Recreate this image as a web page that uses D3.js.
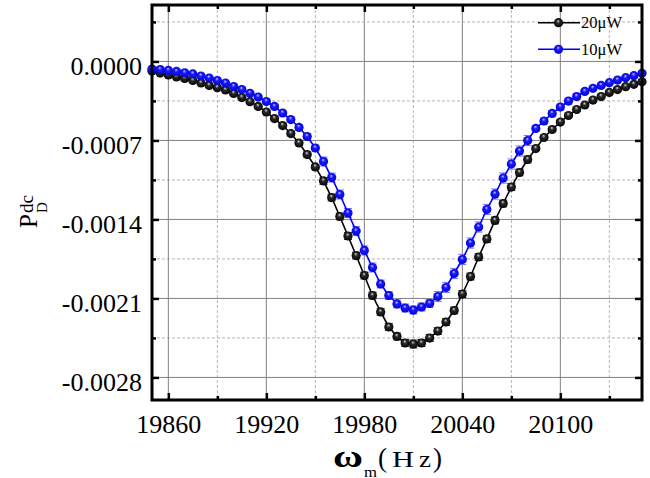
<!DOCTYPE html>
<html>
<head>
<meta charset="utf-8">
<script src="https://cdn.jsdelivr.net/npm/d3@7"></script>
<style>
  body { margin: 0; background: #fff; }
  svg { display: block; }
</style>
</head>
<body>
<div id="chart"></div>
<script>
// modulation frequency (Hz)
const freq = [19850, 19855, 19860, 19865, 19870, 19875, 19880, 19885, 19890, 19895,
  19900, 19905, 19910, 19915, 19920, 19925, 19930, 19935, 19940, 19945,
  19950, 19955, 19960, 19965, 19970, 19975, 19980, 19985, 19990, 19995,
  20000, 20005, 20010, 20015, 20020, 20025, 20030, 20035, 20040, 20045,
  20050, 20055, 20060, 20065, 20070, 20075, 20080, 20085, 20090, 20095,
  20100, 20105, 20110, 20115, 20120, 20125, 20130, 20135, 20140, 20145, 20150];

// P_D^dc in units of 1e-4
const pd20uW = [-0.85, -1.03, -1.20, -1.38, -1.51, -1.69, -1.91, -2.13, -2.33, -2.53,
  -2.84, -3.20, -3.57, -3.99, -4.48, -5.06, -5.68, -6.39, -7.23, -8.25,
  -9.35, -10.59, -12.06, -13.74, -15.47, -17.20, -18.97, -20.74, -22.20, -23.53,
  -24.37, -24.95, -25.04, -24.95, -24.51, -23.89, -23.09, -22.07, -20.61, -19.06,
  -17.33, -15.73, -14.09, -12.59, -11.13, -9.84, -8.69, -7.72, -6.74, -6.03,
  -5.37, -4.79, -4.26, -3.86, -3.42, -3.11, -2.75, -2.49, -2.24, -2.03, -1.80];

const pd10uW = [-0.67, -0.72, -0.80, -0.89, -1.01, -1.11, -1.29, -1.47, -1.69, -1.91,
  -2.22, -2.49, -2.82, -3.15, -3.55, -3.99, -4.57, -5.15, -5.85, -6.65,
  -7.67, -8.87, -10.29, -11.79, -13.43, -15.03, -16.75, -18.26, -19.72, -20.74,
  -21.49, -21.85, -22.03, -21.76, -21.45, -20.83, -20.03, -18.79, -17.55, -16.09,
  -14.67, -13.12, -11.75, -10.33, -9.09, -7.94, -7.01, -5.94, -5.28, -4.61,
  -4.04, -3.51, -3.11, -2.66, -2.38, -2.13, -1.88, -1.65, -1.44, -1.26, -1.05];

// error bars (same units)
const err20uW = [0.1, 0.1, 0.1, 0.1, 0.1, 0.1, 0.1, 0.1, 0.1, 0.1,
  0.1, 0.1, 0.1, 0.1, 0.1, 0.2, 0.2, 0.2, 0.2, 0.2,
  0.2, 0.3, 0.3, 0.3, 0.3, 0.3, 0.3, 0.3, 0.3, 0.3,
  0.3, 0.3, 0.35, 0.3, 0.3, 0.3, 0.3, 0.3, 0.3, 0.3,
  0.3, 0.3, 0.3, 0.3, 0.3, 0.3, 0.3, 0.15, 0.15, 0.15,
  0.15, 0.15, 0.15, 0.15, 0.15, 0.15, 0.15, 0.15, 0.15, 0.15, 0.15];

const err10uW = [0.1, 0.1, 0.1, 0.1, 0.1, 0.1, 0.1, 0.1, 0.1, 0.1,
  0.1, 0.1, 0.1, 0.15, 0.15, 0.15, 0.15, 0.15, 0.25, 0.25,
  0.25, 0.4, 0.4, 0.4, 0.4, 0.4, 0.4, 0.4, 0.35, 0.35,
  0.35, 0.35, 0.35, 0.35, 0.35, 0.45, 0.45, 0.45, 0.45, 0.45,
  0.45, 0.45, 0.45, 0.45, 0.45, 0.45, 0.45, 0.25, 0.25, 0.25,
  0.25, 0.25, 0.25, 0.12, 0.12, 0.12, 0.12, 0.12, 0.12, 0.12, 0.12];

const seriesNames = ["20\u03bcW", "10\u03bcW"];

const xMajor = [19860, 19920, 19980, 20040, 20100];
const xMinor = [19890, 19950, 20010, 20070, 20130];
const yMajor = [0, -7, -14, -21, -28];
const yMinor = [3.5, -3.5, -10.5, -17.5, -24.5];

const width = 650, height = 478;
const plot = { left: 152, right: 642, top: 5, bottom: 400 };

const svg = d3.select("#chart").append("svg")
  .attr("width", width)
  .attr("height", height);

const x = d3.scaleLinear().domain([19850, 20150]).range([plot.left, plot.right]);
const y = d3.scaleLinear().domain([-30, 5]).range([plot.bottom, plot.top]);

// gradients for the sphere markers
const defs = svg.append("defs");
function sphere(id, edge, mid, hi) {
  const g = defs.append("radialGradient").attr("id", id)
    .attr("cx", "50%").attr("cy", "50%").attr("r", "55%")
    .attr("fx", "45%").attr("fy", "30%");
  g.append("stop").attr("offset", "0%").attr("stop-color", hi);
  g.append("stop").attr("offset", "35%").attr("stop-color", mid);
  g.append("stop").attr("offset", "100%").attr("stop-color", edge);
}
sphere("ballBlack", "#000", "#2a2a2a", "#d8d8d8");
sphere("ballBlue", "#0000d0", "#1a1aff", "#c8c8ff");

// grid
const grid = svg.append("g");
grid.selectAll(".gxm").data(xMinor).join("line")
  .attr("x1", d => x(d)).attr("x2", d => x(d))
  .attr("y1", plot.top).attr("y2", plot.bottom)
  .attr("stroke", "#b4b4b4").attr("stroke-dasharray", "3,2");
grid.selectAll(".gym").data(yMinor).join("line")
  .attr("y1", d => y(d)).attr("y2", d => y(d))
  .attr("x1", plot.left).attr("x2", plot.right)
  .attr("stroke", "#b4b4b4").attr("stroke-dasharray", "3,2");
grid.selectAll(".gx").data(xMajor).join("line")
  .attr("x1", d => x(d)).attr("x2", d => x(d))
  .attr("y1", plot.top).attr("y2", plot.bottom)
  .attr("stroke", "#808080");
grid.selectAll(".gy").data(yMajor).join("line")
  .attr("y1", d => y(d)).attr("y2", d => y(d))
  .attr("x1", plot.left).attr("x2", plot.right)
  .attr("stroke", "#808080");

// series
const series = [
  { name: seriesNames[0], vals: pd20uW, err: err20uW, color: "#000", errColor: "#222", ball: "url(#ballBlack)" },
  { name: seriesNames[1], vals: pd10uW, err: err10uW, color: "#0000ff", errColor: "rgba(70,70,255,0.75)", ball: "url(#ballBlue)" }
];

const line = d3.line().x(d => x(d.f)).y(d => y(d.v));

series.forEach(s => {
  const pts = freq.map((f, i) => ({ f, v: s.vals[i], e: s.err[i] }));
  const g = svg.append("g");

  // error bars
  const eb = g.selectAll(".eb").data(pts).join("g")
    .attr("stroke", s.errColor).attr("stroke-width", 1);
  eb.append("line")
    .attr("x1", d => x(d.f)).attr("x2", d => x(d.f))
    .attr("y1", d => y(d.v - d.e)).attr("y2", d => y(d.v + d.e));
  eb.append("line")
    .attr("x1", d => x(d.f) - 4).attr("x2", d => x(d.f) + 4)
    .attr("y1", d => y(d.v + d.e)).attr("y2", d => y(d.v + d.e));
  eb.append("line")
    .attr("x1", d => x(d.f) - 4).attr("x2", d => x(d.f) + 4)
    .attr("y1", d => y(d.v - d.e)).attr("y2", d => y(d.v - d.e));

  g.append("path").datum(pts)
    .attr("d", line)
    .attr("fill", "none")
    .attr("stroke", s.color)
    .attr("stroke-width", 1.6);

  g.selectAll("circle").data(pts).join("circle")
    .attr("cx", d => x(d.f))
    .attr("cy", d => y(d.v))
    .attr("r", 4.6)
    .attr("fill", s.ball);
});

// axes (ticks inward on all four sides)
function styleAxis(sel) {
  sel.select(".domain").remove();
  sel.selectAll(".tick line").attr("stroke", "#000").attr("stroke-width", 2.5);
}
const axisFont = "'Liberation Serif', 'Times New Roman', serif";

const xb = svg.append("g").attr("transform", `translate(0,${plot.bottom})`)
  .call(d3.axisBottom(x).tickValues(xMajor).tickSize(-7).tickFormat(d => d));
xb.selectAll("text")
  .attr("y", 33).attr("dy", null).attr("fill", "#000")
  .style("font-family", axisFont).style("font-size", "26px");
styleAxis(xb);
styleAxis(svg.append("g").attr("transform", `translate(0,${plot.bottom})`)
  .call(d3.axisBottom(x).tickValues(xMinor).tickSize(-4).tickFormat("")));
styleAxis(svg.append("g").attr("transform", `translate(0,${plot.top})`)
  .call(d3.axisTop(x).tickValues(xMajor).tickSize(-7).tickFormat("")));
styleAxis(svg.append("g").attr("transform", `translate(0,${plot.top})`)
  .call(d3.axisTop(x).tickValues(xMinor).tickSize(-4).tickFormat("")));

const yl = svg.append("g").attr("transform", `translate(${plot.left},0)`)
  .call(d3.axisLeft(y).tickValues(yMajor).tickSize(-7).tickFormat(d => (d / 1e4).toFixed(4)));
yl.selectAll("text")
  .attr("x", -10).attr("dy", "0.52em").attr("fill", "#000")
  .style("font-family", axisFont).style("font-size", "26px");
styleAxis(yl);
styleAxis(svg.append("g").attr("transform", `translate(${plot.left},0)`)
  .call(d3.axisLeft(y).tickValues(yMinor).tickSize(-4).tickFormat("")));
styleAxis(svg.append("g").attr("transform", `translate(${plot.right},0)`)
  .call(d3.axisRight(y).tickValues(yMajor).tickSize(-7).tickFormat("")));
styleAxis(svg.append("g").attr("transform", `translate(${plot.right},0)`)
  .call(d3.axisRight(y).tickValues(yMinor).tickSize(-4).tickFormat("")));

// frame
svg.append("rect")
  .attr("x", plot.left).attr("y", plot.top)
  .attr("width", plot.right - plot.left).attr("height", plot.bottom - plot.top)
  .attr("fill", "none").attr("stroke", "#000").attr("stroke-width", 3);

// legend
const legend = svg.append("g").style("font-family", axisFont).style("font-size", "17px");
series.forEach((s, i) => {
  const ly = 22.7 + i * 26.6;
  legend.append("line")
    .attr("x1", 538).attr("x2", 580).attr("y1", ly).attr("y2", ly)
    .attr("stroke", s.color).attr("stroke-width", 1.6);
  legend.append("circle").attr("cx", 558.5).attr("cy", ly).attr("r", 4.6).attr("fill", s.ball);
  legend.append("text").attr("x", 581).attr("y", ly + 5.5)
    .attr("textLength", 41).attr("lengthAdjust", "spacingAndGlyphs")
    .text(s.name);
});

// x axis title
const xt = svg.append("g").style("font-family", axisFont).attr("fill", "#000");
xt.append("text").attr("x", 333).attr("y", 467)
  .style("font-size", "32px").style("font-weight", "bold")
  .attr("textLength", 30).attr("lengthAdjust", "spacingAndGlyphs")
  .text("\u03c9");
xt.append("text").attr("x", 364).attr("y", 476.5)
  .style("font-size", "15px")
  .attr("textLength", 13).attr("lengthAdjust", "spacingAndGlyphs")
  .text("m");
xt.append("text").attr("x", 378).attr("y", 467).style("font-size", "27px").text("(");
xt.append("text").attr("x", 392).attr("y", 466.5).style("font-size", "24px")
  .attr("textLength", 22).attr("lengthAdjust", "spacingAndGlyphs").text("H");
xt.append("text").attr("x", 419).attr("y", 466.5).style("font-size", "24px")
  .attr("textLength", 12).attr("lengthAdjust", "spacingAndGlyphs").text("z");
xt.append("text").attr("x", 433).attr("y", 467).style("font-size", "27px").text(")");

// y axis title
const yt = svg.append("g").style("font-family", axisFont).attr("fill", "#000")
  .attr("transform", "translate(37,228) rotate(-90)");
yt.append("text").attr("x", 0).attr("y", 0).style("font-size", "25px").text("P");
yt.append("text").attr("x", 15).attr("y", -4).style("font-size", "19px").text("dc");
yt.append("text").attr("x", 15).attr("y", 10).style("font-size", "15px").text("D");
</script>
</body>
</html>
